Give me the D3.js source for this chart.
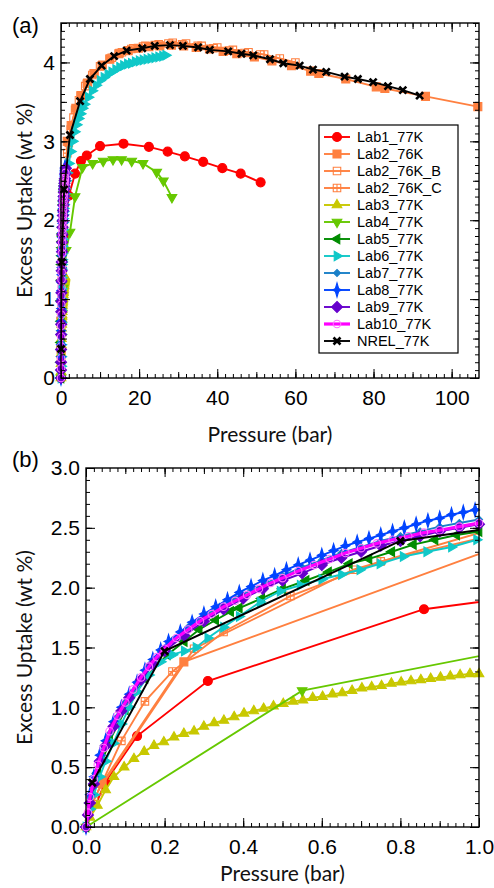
<!DOCTYPE html>
<html lang="en">
<head>
<meta charset="UTF-8">
<title>Excess uptake isotherms</title>
<style>
  body { margin: 0; background: #fff; }
  .tick text { font-family: "Liberation Sans", Arial, sans-serif; font-size: 21px; fill: #000; }
  .axis-title { font-family: Lato, sans-serif; font-size: 21px; fill: #111; }
  .panel-label { font-family: "Liberation Sans", Arial, sans-serif; font-size: 22px; }
  .legend text { font-family: "Liberation Sans", Arial, sans-serif; font-size: 14.5px; fill: #000; }
</style>
</head>
<body>
<svg id="chart" width="494" height="888"></svg>
<script src="https://d3js.org/d3.v7.min.js"></script>
<script>
// [pressure (bar), excess uptake (wt %)]
const lab1 = [[0,0],[0.05,0.38],[0.13,0.76],[0.31,1.22],[0.86,1.82],[2.0,2.31],[3.6,2.59],[5.1,2.75],[6.6,2.82],[10,2.94],[16,2.97],[22.5,2.93],[27.3,2.87],[31.7,2.81],[36.4,2.74],[41.3,2.66],[46,2.59],[51.1,2.48]];
const lab2 = [[0.041,0.365],[0.249,1.38],[1.6,3.0],[2.6,3.2],[3.8,3.42],[5.2,3.58],[6.8,3.74],[8.5,3.86],[10.5,3.96],[12.5,4.04],[14.8,4.11],[17.2,4.15],[19.8,4.18],[22.5,4.2],[25.3,4.21],[28.3,4.22],[31.4,4.21],[34.6,4.19],[38,4.17],[41.5,4.14],[45,4.11],[49.5,4.07],[54,4.02],[59,3.96],[63.9,3.89],[66,3.86],[72.9,3.79],[80.7,3.69],[82.9,3.67],[93.3,3.57],[106.7,3.44]];
const lab2b = [[0.03,0.3],[0.275,1.49],[0.68,2.15],[1.2,2.65],[2.0,2.98],[3.2,3.3],[4.6,3.52],[6.2,3.7],[8,3.84],[10,3.95],[12.5,4.05],[15,4.12],[18,4.17],[21,4.2],[24,4.22],[27.5,4.24],[31,4.23],[35,4.21],[39,4.18],[43,4.15],[47,4.12],[51,4.1]];
const lab2c = [[0.02,0.22],[0.09,0.72],[0.15,1.05],[0.22,1.3],[0.35,1.63],[0.52,1.93],[0.75,2.22],[1.05,2.45],[1.6,2.85],[2.5,3.15],[3.6,3.4],[5,3.58],[6.6,3.73],[8.4,3.86],[10.6,3.97],[13,4.06],[15.6,4.13],[18.5,4.18],[21.6,4.21],[25,4.23],[28.6,4.25],[32,4.24],[36,4.21],[40,4.19],[44,4.16],[48,4.13],[52,4.1],[56,4.05],[60,4.0]];
const lab3 = [[0,0],[0.01,0.08],[0.029,0.18],[0.05,0.31],[0.071,0.42],[0.097,0.5],[0.122,0.57],[0.148,0.63],[0.173,0.68],[0.198,0.71],[0.224,0.75],[0.249,0.78],[0.275,0.8],[0.3,0.84],[0.326,0.87],[0.351,0.89],[0.377,0.92],[0.402,0.95],[0.427,0.97],[0.452,0.99],[0.477,1.01],[0.502,1.03],[0.527,1.05],[0.552,1.06],[0.577,1.08],[0.602,1.09],[0.627,1.11],[0.652,1.12],[0.677,1.14],[0.702,1.16],[0.727,1.17],[0.752,1.18],[0.777,1.2],[0.802,1.21],[0.827,1.22],[0.852,1.23],[0.877,1.24],[0.902,1.25],[0.927,1.26],[0.952,1.27],[0.977,1.28],[1.0,1.28]];
const lab4 = [[0,0],[0.55,1.14],[1.3,1.62],[2.3,1.85],[3.6,2.3],[5.5,2.67],[8.1,2.72],[10.8,2.75],[13.3,2.77],[15.5,2.77],[18.1,2.75],[21,2.72],[24.5,2.61],[26.2,2.5],[28.4,2.29]];
const lab5 = [[0,0],[0.01,0.2],[0.03,0.45],[0.06,0.72],[0.1,0.98],[0.15,1.24],[0.207,1.44],[0.25,1.55],[0.288,1.65],[0.33,1.73],[0.368,1.8],[0.39,1.83],[0.447,1.91],[0.5,1.99],[0.56,2.06],[0.617,2.13],[0.67,2.2],[0.72,2.24],[0.778,2.3],[0.833,2.36],[0.888,2.4],[0.943,2.44],[1.0,2.47],[1.1,2.52]];
const lab6 = [[0,0],[0.01,0.15],[0.02,0.27],[0.035,0.42],[0.05,0.55],[0.07,0.7],[0.09,0.86],[0.11,1.0],[0.13,1.13],[0.16,1.27],[0.19,1.38],[0.22,1.44],[0.25,1.47],[0.28,1.5],[0.31,1.58],[0.35,1.67],[0.39,1.76],[0.443,1.88],[0.494,1.97],[0.545,2.02],[0.6,2.07],[0.65,2.11],[0.697,2.15],[0.748,2.2],[0.807,2.26],[0.867,2.3],[0.93,2.34],[0.994,2.4],[1.3,2.5],[1.6,2.6],[2.0,2.72],[2.5,2.87],[3.0,3.0],[3.5,3.12],[4.0,3.21],[4.5,3.29],[5,3.35],[5.5,3.42],[6,3.47],[7,3.56],[8,3.64],[9,3.71],[10,3.77],[11,3.81],[12,3.85],[13,3.88],[14,3.91],[15,3.94],[16,3.96],[17,3.98],[18,3.99],[19,4.01],[20,4.02],[21,4.03],[22,4.04],[23,4.05],[24,4.06],[25,4.07],[26,4.08],[26.8,4.09]];
const lab7 = [[0,0],[0.01,0.25],[0.025,0.45],[0.04,0.6],[0.06,0.78],[0.08,0.92],[0.1,1.04],[0.13,1.2],[0.16,1.35],[0.19,1.47],[0.22,1.56],[0.26,1.67],[0.3,1.76],[0.34,1.84],[0.38,1.91],[0.42,1.98],[0.46,2.04],[0.5,2.1],[0.55,2.17],[0.6,2.23],[0.65,2.29],[0.7,2.34],[0.75,2.39],[0.8,2.43],[0.85,2.47],[0.9,2.51],[0.95,2.54],[1.0,2.57]];
const lab8 = [[0,0],[0.01,0.27],[0.02,0.42],[0.035,0.6],[0.05,0.72],[0.07,0.88],[0.09,1.0],[0.11,1.11],[0.13,1.21],[0.15,1.31],[0.17,1.4],[0.19,1.48],[0.21,1.55],[0.24,1.63],[0.27,1.71],[0.3,1.78],[0.33,1.84],[0.36,1.9],[0.39,1.96],[0.42,2.01],[0.45,2.06],[0.48,2.1],[0.51,2.15],[0.54,2.19],[0.57,2.23],[0.6,2.27],[0.63,2.31],[0.66,2.35],[0.69,2.38],[0.72,2.41],[0.75,2.44],[0.78,2.47],[0.81,2.5],[0.84,2.53],[0.87,2.56],[0.9,2.58],[0.93,2.61],[0.96,2.63],[0.99,2.65],[1.02,2.67]];
const lab9 = [[0,0],[0.005,0.1],[0.01,0.2],[0.02,0.36],[0.035,0.55],[0.05,0.68],[0.07,0.84],[0.09,0.97],[0.11,1.08],[0.14,1.23],[0.17,1.36],[0.2,1.47],[0.25,1.6],[0.3,1.72],[0.35,1.82],[0.4,1.91],[0.45,1.99],[0.5,2.06],[0.55,2.12],[0.6,2.19],[0.65,2.25],[0.7,2.3],[0.75,2.35],[0.8,2.39],[0.85,2.43],[0.9,2.47],[0.95,2.5],[1.0,2.53],[1.1,2.59],[1.25,2.66]];
const lab10 = [[0,0],[0.005,0.12],[0.01,0.25],[0.02,0.4],[0.03,0.52],[0.045,0.66],[0.06,0.8],[0.08,0.93],[0.1,1.04],[0.12,1.15],[0.14,1.25],[0.16,1.34],[0.18,1.42],[0.2,1.49],[0.23,1.58],[0.26,1.65],[0.29,1.72],[0.32,1.78],[0.35,1.84],[0.38,1.89],[0.41,1.94],[0.44,1.99],[0.47,2.04],[0.5,2.08],[0.54,2.14],[0.58,2.19],[0.62,2.24],[0.66,2.29],[0.7,2.33],[0.74,2.37],[0.78,2.4],[0.82,2.43],[0.86,2.46],[0.9,2.48],[0.95,2.51],[1.0,2.54],[1.1,2.6]];
const nrel = [[0.016,0.37],[0.2,1.47],[0.8,2.39],[2.3,3.08],[4.9,3.51],[7.4,3.79],[10.4,3.96],[13.6,4.08],[16.8,4.15],[20.8,4.18],[24,4.21],[27.9,4.22],[31.2,4.21],[35.1,4.19],[38.1,4.16],[42.8,4.14],[46.2,4.11],[49.2,4.09],[53.5,4.04],[56.9,3.99],[61.1,3.96],[64.5,3.91],[67.9,3.88],[72.6,3.82],[76,3.79],[79.9,3.75],[83.7,3.7],[87.5,3.65],[91.8,3.58]];

const seriesNames = ["Lab1_77K","Lab2_76K","Lab2_76K_B","Lab2_76K_C","Lab3_77K","Lab4_77K","Lab5_77K","Lab6_77K","Lab7_77K","Lab8_77K","Lab9_77K","Lab10_77K","NREL_77K"];
const seriesData = [lab1, lab2, lab2b, lab2c, lab3, lab4, lab5, lab6, lab7, lab8, lab9, lab10, nrel];
const seriesColors = ["#ff0000","#ff8040","#ff8040","#ff8040","#c8c800","#66c800","#008c00","#10c8c8","#1a80c8","#0044ff","#6600cc","#ff00ff","#000000"];
const seriesMarkers = ["circle","square","squareOpen","squareCross","triUp","triDown","triLeft","triRight","smallDiamond","star4","diamond","circleOpen","cross"];

// panel (a) ticks
const xTicksA = [0, 20, 40, 60, 80, 100];
const yTicksA = [0, 1, 2, 3, 4];
// panel (b) ticks
const xTicksB = [0, 0.2, 0.4, 0.6, 0.8, 1.0];
const yTicksB = [0, 0.5, 1.0, 1.5, 2.0, 2.5, 3.0];

const svg = d3.select("#chart");

function marker(kind) {
    const tri = d3.symbol(d3.symbolTriangle, 40)();
    switch (kind) {
        case "circle": return { d: d3.symbol(d3.symbolCircle, 64)(), fill: true };
        case "square": return { d: d3.symbol(d3.symbolSquare, 64)(), fill: true };
        case "squareOpen": return { d: d3.symbol(d3.symbolSquare, 56)(), fill: false };
        case "squareCross": return { d: d3.symbol(d3.symbolSquare, 56)() + "M-3.7,0H3.7M0,-3.7V3.7", fill: false };
        case "triUp": return { d: tri, fill: true, rot: 0 };
        case "triDown": return { d: tri, fill: true, rot: 180 };
        case "triLeft": return { d: tri, fill: true, rot: -90 };
        case "triRight": return { d: tri, fill: true, rot: 90 };
        case "smallDiamond": return { d: "M0,-3.5L3.5,0L0,3.5L-3.5,0Z", fill: true };
        case "star4": return { d: "M0,-7L1.6,-1.6L4.5,0L1.6,1.6L0,7L-1.6,1.6L-4.5,0L-1.6,-1.6Z", fill: true };
        case "diamond": return { d: "M0,-5.5L5.5,0L0,5.5L-5.5,0Z", fill: true };
        case "circleOpen": return { d: d3.symbol(d3.symbolCircle, 44)(), fill: false, stroke: "#ff70ff" };
        case "cross": return { d: "M-3.5,-3.5L3.5,3.5M3.5,-3.5L-3.5,3.5", fill: false, sw: 2.6 };
    }
}

function drawMarks(g, pts, i, x, y) {
    const m = marker(seriesMarkers[i]);
    const c = seriesColors[i];
    g.selectAll(null)
        .data(pts)
        .join("path")
        .attr("d", m.d)
        .attr("transform", d => `translate(${x(d[0])},${y(d[1])}) rotate(${m.rot || 0})`)
        .attr("fill", m.fill ? c : "none")
        .attr("stroke", m.stroke || c)
        .attr("stroke-width", m.sw || 1.1);
}

function drawPanel(box, xDom, yDom, xTicks, yTicks, xMinor, yMinor, fmt, id) {
    const x = d3.scaleLinear().domain(xDom).range([box.l, box.r]);
    const y = d3.scaleLinear().domain(yDom).range([box.b, box.t]);
    const g = svg.append("g");

    svg.append("clipPath").attr("id", "clip-" + id)
        .append("rect")
        .attr("x", box.l).attr("y", box.t - 20)
        .attr("width", box.r - box.l).attr("height", box.b - box.t + 40);

    const line = d3.line().x(d => x(d[0])).y(d => y(d[1]));
    const data = g.append("g");
    seriesData.forEach((pts, i) => {
        data.append("path")
            .datum(pts)
            .attr("clip-path", `url(#clip-${id})`)
            .attr("fill", "none")
            .attr("stroke", seriesColors[i])
            .attr("stroke-width", i === 11 ? 3.2 : 1.9)
            .attr("d", line);
        drawMarks(data.append("g"), pts.filter(d => d[0] <= xDom[1] + 1e-9), i, x, y);
    });

    // frame + inward ticks on all four sides
    const nx = Math.round(xDom[1] / xMinor.step);
    const ny = Math.round(yDom[1] / yMinor.step);
    const xMin = d3.range(0, nx + 1).map(k => k * xMinor.step).filter(v => v <= xDom[1]);
    const yMin = d3.range(0, ny + 1).map(k => k * yMinor.step);
    const xMid = xMin.filter((v, k) => k % xMinor.mid === 0);
    const yMid = yMin.filter((v, k) => k % yMinor.mid === 0);

    const axes = g.append("g");
    [[xMin, 4, false], [xMid, 6, false], [xTicks, 9, true]].forEach(([vals, len, lab]) => {
        axes.append("g").attr("transform", `translate(0,${box.b})`)
            .call(d3.axisBottom(x).tickValues(vals).tickSize(-len).tickSizeOuter(0).tickPadding(12)
                .tickFormat(lab ? fmt : ""));
        axes.append("g").attr("transform", `translate(0,${box.t})`)
            .call(d3.axisTop(x).tickValues(vals).tickSize(-len).tickSizeOuter(0).tickFormat(""));
    });
    [[yMin, 4, false], [yMid, 6, false], [yTicks, 9, true]].forEach(([vals, len, lab]) => {
        axes.append("g").attr("transform", `translate(${box.l},0)`)
            .call(d3.axisLeft(y).tickValues(vals).tickSize(-len).tickSizeOuter(0).tickPadding(6)
                .tickFormat(lab ? fmt : ""));
        axes.append("g").attr("transform", `translate(${box.r},0)`)
            .call(d3.axisRight(y).tickValues(vals).tickSize(-len).tickSizeOuter(0).tickFormat(""));
    });
    axes.selectAll(".domain").remove();
    axes.selectAll(".tick line").attr("stroke", "#000").attr("stroke-width", 1);

    g.append("rect")
        .attr("x", box.l).attr("y", box.t)
        .attr("width", box.r - box.l).attr("height", box.b - box.t)
        .attr("fill", "none").attr("stroke", "#000").attr("stroke-width", 1.4);
    return { x, y, g };
}

// panel (a)
const boxA = { l: 61, r: 479, t: 23, b: 378 };
drawPanel(boxA, [0, 107], [0, 4.5], xTicksA, yTicksA,
    { step: 2, mid: 5 }, { step: 0.1, mid: 5 }, d3.format("d"), "a");

// panel (b)
const boxB = { l: 86, r: 479, t: 468, b: 827 };
drawPanel(boxB, [0, 1], [0, 3], xTicksB, yTicksB,
    { step: 0.02, mid: 5 }, { step: 0.1, mid: 5 }, d3.format(".1f"), "b");

// axis titles and panel letters
[[boxA, 442], [boxB, 881]].forEach(([b, yy]) => {
    svg.append("text").attr("class", "axis-title")
        .attr("x", (b.l + b.r) / 2).attr("y", yy)
        .attr("text-anchor", "middle").text("Pressure (bar)");
    svg.append("text").attr("class", "axis-title")
        .attr("transform", `translate(31.5,${(b.t + b.b) / 2}) rotate(-90)`)
        .attr("text-anchor", "middle").text("Excess Uptake (wt %)");
});
svg.append("text").attr("class", "panel-label").attr("x", 12).attr("y", 33).text("(a)");
svg.append("text").attr("class", "panel-label").attr("x", 12).attr("y", 467).text("(b)");

// legend
const leg = svg.append("g").attr("class", "legend");
leg.append("rect")
    .attr("x", 319).attr("y", 125).attr("width", 139).attr("height", 228)
    .attr("fill", "#fff").attr("stroke", "#000").attr("stroke-width", 1.2);
seriesNames.forEach((name, i) => {
    const ry = 137 + i * 17;
    leg.append("line")
        .attr("x1", 324).attr("x2", 350).attr("y1", ry).attr("y2", ry)
        .attr("stroke", seriesColors[i]).attr("stroke-width", i === 11 ? 3.2 : 1.9);
    drawMarks(leg.append("g"), [[0, 0]], i, () => 337, () => ry);
    leg.append("text").attr("x", 357).attr("y", ry).attr("dy", "0.36em").text(name);
});
</script>
</body>
</html>
